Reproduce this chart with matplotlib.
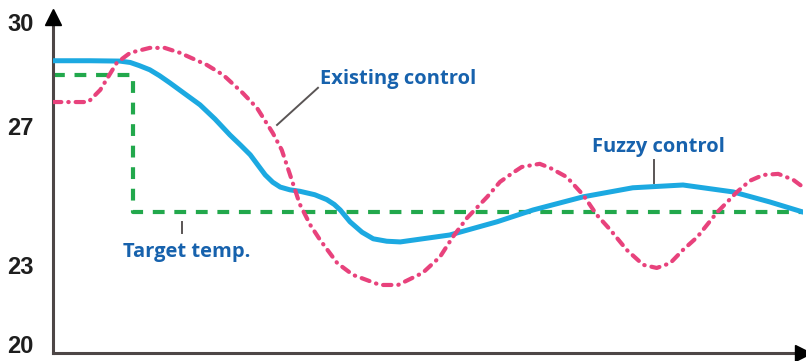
import matplotlib
matplotlib.use("Agg")
import matplotlib.pyplot as plt

# ---- data (time in arbitrary units, temperature in degrees) ----
fuzzy_t = [0, 4.9, 8.9, 10.3, 11.5, 12.9, 14.2, 15.6, 17.5, 19.6, 21.6, 23.6, 25.0, 26.3,
           27.3, 28.3, 29.3, 30.3, 31.6, 32.9, 34.9, 36.5, 37.5, 38.3, 39.6, 41.2, 42.7,
           44.5, 46.3, 52.9, 59.2, 64.0, 70.7, 77.3, 84.0, 90.7, 95.6, 100]
fuzzy_T = [28.88, 28.88, 28.87, 28.83, 28.74, 28.62, 28.45, 28.24, 27.94, 27.61, 27.20,
           26.74, 26.45, 26.17, 25.88, 25.59, 25.38, 25.24, 25.16, 25.12, 25.02, 24.88,
           24.74, 24.58, 24.24, 23.94, 23.75, 23.68, 23.66, 23.86, 24.24, 24.58, 24.96,
           25.22, 25.30, 25.10, 24.81, 24.52]

exist_t = [0, 4.7, 6.3, 8.5, 10.3, 12.9, 14.9, 16.9, 20.5, 22.7, 25.3, 27.2, 29.3, 30.5,
           31.6, 32.9, 34.3, 35.6, 37.9, 40.0, 43.6, 46.0, 49.3, 51.6, 53.3, 55.2, 57.9,
           59.6, 61.3, 62.5, 64.9, 66.3, 68.5, 70.7, 72.5, 74.3, 76.5, 78.7, 80.5, 82.3,
           84.0, 85.9, 88.5, 91.2, 92.9, 94.7, 96.7, 98.7, 100]
exist_T = [27.69, 27.69, 28.04, 28.82, 29.11, 29.25, 29.25, 29.11, 28.76, 28.47, 27.95,
           27.52, 26.80, 26.31, 25.60, 24.75, 24.15, 23.72, 23.05, 22.71, 22.42, 22.42,
           22.77, 23.23, 23.80, 24.35, 24.96, 25.39, 25.65, 25.82, 25.91, 25.79, 25.53,
           25.01, 24.44, 24.01, 23.43, 23.00, 22.91, 23.05, 23.43, 23.80, 24.50, 25.10,
           25.42, 25.59, 25.62, 25.45, 25.24]

target_t = [0, 10.67, 10.67, 100]
target_T = [28.47, 28.47, 24.52, 24.52]

ytick_vals = [20.72, 23, 27, 30]
ytick_labels = ["20", "23", "27", "30"]

label_existing = "Existing control"
label_fuzzy = "Fuzzy control"
label_target = "Target temp."

# ---- figure ----
plt.rcParams['lines.scale_dashes'] = False
fig = plt.figure(figsize=(8.06, 3.61), dpi=100)
ax = fig.add_axes([53 / 806, 8 / 361, 750 / 806, 336 / 361])
ax.set_xlim(0, 100)
ax.set_ylim(20.46, 30.14)
ax.patch.set_alpha(0)

green = '#22a84c'
blue = '#1ca9e1'
pink = '#e8427c'
text_blue = '#1762ad'

ax.plot(target_t, target_T, color=green, lw=3.0, linestyle=(0, (8.5, 7.0)),
        dash_capstyle='butt', zorder=2)
ax.plot(fuzzy_t, fuzzy_T, color=blue, lw=3.6, solid_capstyle='round',
        solid_joinstyle='round', zorder=3)
ax.plot(exist_t, exist_T, color=pink, lw=3.0, linestyle=(0, (6.0, 5.0, 0.3, 5.0)),
        dash_capstyle='round', zorder=4)

# leader lines
ax.plot([35.33, 29.87], [28.10, 27.03], color='#5a5555', lw=1.4, zorder=5)
ax.plot([17.2, 17.2], [24.24, 23.92], color='#5a5555', lw=1.4, zorder=5)
ax.plot([80.1, 80.1], [26.02, 25.36], color='#5a5555', lw=1.4, zorder=5)

tfont = dict(family=['Open Sans', 'DejaVu Sans'], weight='bold', size=14.5,
             color=text_blue, va='baseline', ha='left')
ax.text(35.6, 28.21, label_existing, **tfont)
ax.text(71.9, 26.25, label_fuzzy, **tfont)
ax.text(9.3, 23.23, label_target, **tfont)

# axes styling
for s in ['top', 'right']:
    ax.spines[s].set_visible(False)
for s in ['left', 'bottom']:
    ax.spines[s].set_color('#4d4646')
    ax.spines[s].set_linewidth(2.2)
ax.set_xticks([])
ax.set_yticks(ytick_vals)
ax.set_yticklabels(ytick_labels, family=['Liberation Sans', 'DejaVu Sans'],
                   weight='bold', size=17, color='#1e1e1e')
ax.tick_params(axis='y', length=0, pad=14)

# arrow heads
ax.plot([0], [1.0], marker='^', color='black', markersize=11, clip_on=False,
        transform=ax.transAxes, zorder=6)
ax.plot([1.0], [0], marker='>', color='black', markersize=11, clip_on=False,
        transform=ax.transAxes, zorder=6)

fig.savefig('out.png', dpi=100)
